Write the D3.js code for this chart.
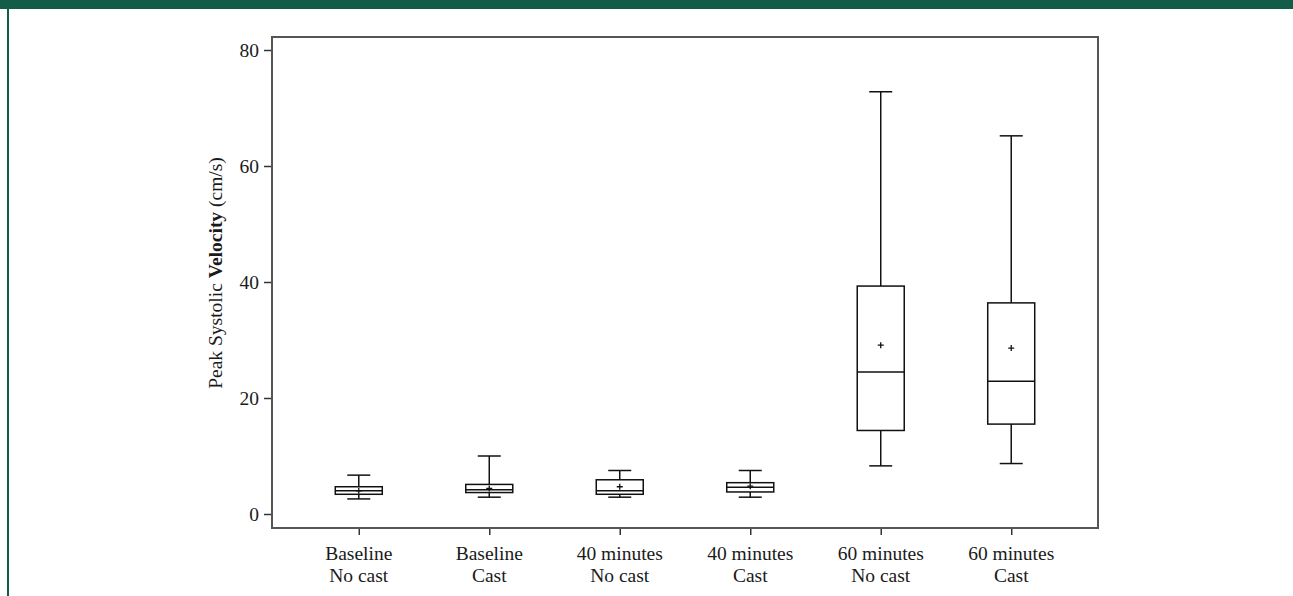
<!DOCTYPE html>
<html>
<head>
<meta charset="utf-8">
<script src="https://cdn.jsdelivr.net/npm/d3@7"></script>
<style>
  body { margin: 0; background: #fff; }
  svg { display: block; }
  text { font-family: "Liberation Serif", "DejaVu Serif", serif; fill: #1a1a1a; }
</style>
</head>
<body>
<svg id="main_svg" width="1293" height="596"></svg>
<script>
// categories (two-line labels)
const groups = ["Baseline|No cast", "Baseline|Cast", "40 minutes|No cast", "40 minutes|Cast", "60 minutes|No cast", "60 minutes|Cast"];
// box plot stats (cm/s)
const whiskerLow = [2.6, 2.9, 2.9, 2.9, 8.3, 8.7];
const q1 = [3.4, 3.7, 3.4, 3.8, 14.4, 15.5];
const median = [4.0, 4.2, 4.0, 4.6, 24.5, 22.9];
const q3 = [4.7, 5.1, 5.9, 5.4, 39.3, 36.4];
const whiskerHigh = [6.7, 10.0, 7.5, 7.5, 72.8, 65.2];
const means = [4.0, 4.4, 4.7, 4.8, 29.1, 28.6];
const yTicks = [0, 20, 40, 60, 80];

const svg = d3.select("#main_svg");
const green = "#125c48";
const fontSize = 19.5;

// page frame (journal style green bars)
svg.append("rect").attr("x", 0).attr("y", 0).attr("width", 1293).attr("height", 9).attr("fill", green);
svg.append("rect").attr("x", 7).attr("y", 0).attr("width", 2).attr("height", 596).attr("fill", green);

const frame = {left: 272, right: 1098, top: 37, bottom: 528};

const x = d3.scalePoint().domain(groups).range([frame.left, frame.right]).padding(0.665);
const y = d3.scaleLinear().domain([0, 80]).range([514, 50]);

const boxW = 47, capW = 23;

// axes
const yAxis = svg.append("g").attr("transform", "translate(" + frame.left + ",0)")
  .call(d3.axisLeft(y).tickValues(yTicks).tickSize(8).tickPadding(5));
yAxis.select(".domain").remove();
yAxis.selectAll("line").attr("stroke", "#333").attr("stroke-width", 1.5);
yAxis.selectAll("text").attr("font-size", fontSize).attr("font-family", "Liberation Serif").attr("fill", "#1a1a1a");

const xAxis = svg.append("g").attr("transform", "translate(0," + frame.bottom + ")")
  .call(d3.axisBottom(x).tickSize(7).tickFormat(""));
xAxis.select(".domain").remove();
xAxis.selectAll("line").attr("stroke", "#333").attr("stroke-width", 1.5);

// x tick labels, two lines each
const lbl = svg.append("g").selectAll("text").data(groups).enter().append("text")
  .attr("x", d => x(d)).attr("y", 560).attr("text-anchor", "middle").attr("font-size", fontSize);
lbl.append("tspan").attr("x", d => x(d)).attr("dy", 0).text(d => d.split("|")[0]);
lbl.append("tspan").attr("x", d => x(d)).attr("dy", 22).text(d => d.split("|")[1]);

// plot frame
svg.append("rect").attr("x", frame.left).attr("y", frame.top)
  .attr("width", frame.right - frame.left).attr("height", frame.bottom - frame.top)
  .attr("fill", "none").attr("stroke", "#555").attr("stroke-width", 2);

// boxes
const data = groups.map((g, i) => ({g: g, lo: whiskerLow[i], q1: q1[i], med: median[i], q3: q3[i], hi: whiskerHigh[i], mean: means[i]}));
const box = svg.append("g").selectAll("g").data(data).enter().append("g")
  .attr("stroke", "#111").attr("stroke-width", 1.5).attr("fill", "none");

box.append("line").attr("x1", d => x(d.g)).attr("x2", d => x(d.g)).attr("y1", d => y(d.hi)).attr("y2", d => y(d.q3));
box.append("line").attr("x1", d => x(d.g)).attr("x2", d => x(d.g)).attr("y1", d => y(d.q1)).attr("y2", d => y(d.lo));
box.append("line").attr("x1", d => x(d.g) - capW / 2).attr("x2", d => x(d.g) + capW / 2).attr("y1", d => y(d.hi)).attr("y2", d => y(d.hi));
box.append("line").attr("x1", d => x(d.g) - capW / 2).attr("x2", d => x(d.g) + capW / 2).attr("y1", d => y(d.lo)).attr("y2", d => y(d.lo));
box.append("rect").attr("x", d => x(d.g) - boxW / 2).attr("width", boxW)
  .attr("y", d => y(d.q3)).attr("height", d => y(d.q1) - y(d.q3));
box.append("line").attr("x1", d => x(d.g) - boxW / 2).attr("x2", d => x(d.g) + boxW / 2).attr("y1", d => y(d.med)).attr("y2", d => y(d.med));
// mean markers "+"
box.append("path").attr("stroke-width", 1.3)
  .attr("d", d => "M" + (x(d.g) - 3) + "," + y(d.mean) + "h6M" + x(d.g) + "," + (y(d.mean) - 3) + "v6");

// y axis title
const yt = svg.append("text").attr("transform", "translate(222,273) rotate(-90)")
  .attr("text-anchor", "middle").attr("font-size", fontSize);
yt.append("tspan").text("Peak Systolic ");
yt.append("tspan").attr("font-weight", "bold").text("Velocity");
yt.append("tspan").text(" (cm/s)");
</script>
</body>
</html>
